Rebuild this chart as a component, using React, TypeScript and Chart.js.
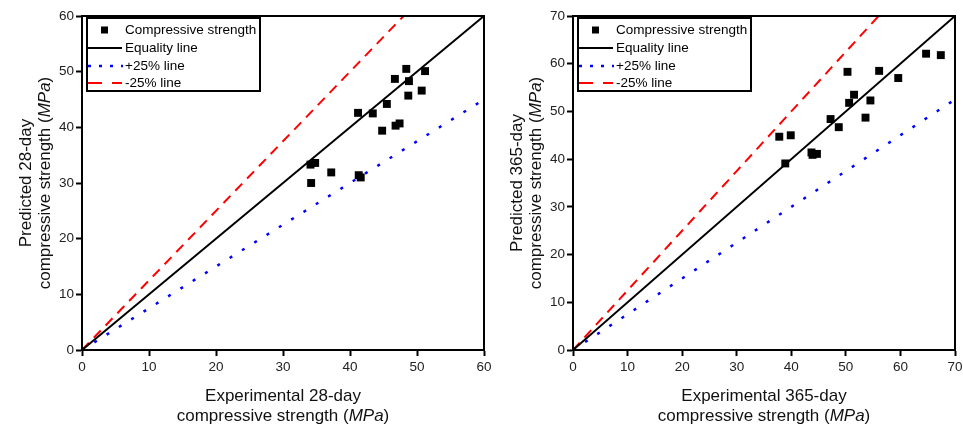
import React, { useEffect, useRef } from 'react';
import { Chart, registerables } from 'chart.js';

Chart.register(...registerables);

// ---- Data (left: 28-day) ----
const LEFT_EXP = [48.4, 51.2, 46.7, 48.8, 50.7, 48.7, 45.5, 41.2, 43.4, 44.8, 46.8, 47.4, 34.1, 34.8, 37.2, 34.2, 41.3, 41.6];
const LEFT_PRED = [50.5, 50.1, 48.7, 48.3, 46.6, 45.7, 44.2, 42.6, 42.5, 39.4, 40.3, 40.7, 33.3, 33.6, 31.9, 30.0, 31.4, 31.0];
const LEFT_EQ_X = [0, 60];
const LEFT_EQ_Y = [0, 60];
const LEFT_PLUS_X = [0, 60];
const LEFT_PLUS_Y = [0, 45];
const LEFT_MINUS_X = [0, 48];
const LEFT_MINUS_Y = [0, 60];
const LEFT_MAX = 60;

// ---- Data (right: 365-day) ----
const RIGHT_EXP = [64.7, 67.4, 50.3, 56.1, 59.6, 51.5, 50.6, 54.5, 47.2, 48.7, 53.6, 37.8, 39.9, 43.7, 43.9, 44.7, 38.9];
const RIGHT_PRED = [62.1, 61.8, 58.3, 58.5, 57.0, 53.5, 51.8, 52.3, 48.4, 46.7, 48.7, 44.7, 45.0, 41.4, 40.9, 41.1, 39.1];
const RIGHT_EQ_X = [0, 70];
const RIGHT_EQ_Y = [0, 70];
const RIGHT_PLUS_X = [0, 70];
const RIGHT_PLUS_Y = [0, 52.5];
const RIGHT_MINUS_X = [0, 56];
const RIGHT_MINUS_Y = [0, 70];
const RIGHT_MAX = 70;

const TICK_STEP = 10;
const LEGEND_LABELS = ['Compressive strength', 'Equality line', '+25% line', '-25% line'];

const FONT = "'Liberation Sans', Arial, Helvetica, sans-serif";

type Part = { t: string; i?: boolean };

const pts = (xs: number[], ys: number[]) => xs.map((x, k) => ({ x, y: ys[k] }));

function drawParts(ctx: CanvasRenderingContext2D, parts: Part[], x: number, y: number, size: number) {
  const fonts = parts.map((p) => `${p.i ? 'italic ' : ''}${size}px ${FONT}`);
  let total = 0;
  const widths = parts.map((p, k) => {
    ctx.font = fonts[k];
    const w = ctx.measureText(p.t).width;
    total += w;
    return w;
  });
  let cx = x - total / 2;
  ctx.textAlign = 'left';
  ctx.textBaseline = 'alphabetic';
  parts.forEach((p, k) => {
    ctx.font = fonts[k];
    ctx.fillText(p.t, cx, y);
    cx += widths[k];
  });
}

function makeDecor(xTitle: Part[][], yTitle: Part[][]) {
  return {
    id: 'decor',
    afterDraw(chart: any) {
      const ctx: CanvasRenderingContext2D = chart.ctx;
      const a = chart.chartArea;
      ctx.save();
      // frame
      ctx.strokeStyle = '#000';
      ctx.lineWidth = 2;
      ctx.setLineDash([]);
      ctx.strokeRect(a.left, a.top, a.right - a.left, a.bottom - a.top);

      // legend
      const lx = a.left + 5;
      const ly = a.top + 2;
      const lw = 173;
      const lh = 73;
      ctx.fillStyle = '#fff';
      ctx.fillRect(lx, ly, lw, lh);
      ctx.strokeRect(lx, ly, lw, lh);
      const rows = [14, 32, 50, 67].map((d) => a.top + d);
      // square
      ctx.fillStyle = '#000';
      ctx.fillRect(lx + 14, rows[0] - 3.5, 7, 7);
      // solid
      ctx.lineWidth = 2;
      ctx.strokeStyle = '#000';
      ctx.beginPath();
      ctx.moveTo(lx + 1, rows[1]);
      ctx.lineTo(lx + 35, rows[1]);
      ctx.stroke();
      // dotted blue
      ctx.strokeStyle = '#0000ff';
      ctx.lineWidth = 2.5;
      ctx.setLineDash([3, 8]);
      ctx.beginPath();
      ctx.moveTo(lx + 1, rows[2]);
      ctx.lineTo(lx + 36, rows[2]);
      ctx.stroke();
      // dashed red
      ctx.strokeStyle = '#ff0000';
      ctx.lineWidth = 2;
      ctx.setLineDash([14, 10]);
      ctx.beginPath();
      ctx.moveTo(lx + 1, rows[3]);
      ctx.lineTo(lx + 35, rows[3]);
      ctx.stroke();
      ctx.setLineDash([]);
      ctx.fillStyle = '#000';
      ctx.font = `13.5px ${FONT}`;
      ctx.textAlign = 'left';
      ctx.textBaseline = 'middle';
      LEGEND_LABELS.forEach((l, k) => ctx.fillText(l, lx + 38, rows[k] + 0.5));

      // x title
      ctx.fillStyle = '#111';
      const cx = (a.left + a.right) / 2;
      drawParts(ctx, xTitle[0], cx, 401, 17);
      drawParts(ctx, xTitle[1], cx, 421, 17);

      // y title
      const cy = (a.top + a.bottom) / 2;
      [a.left - 51, a.left - 32].forEach((bx, k) => {
        ctx.save();
        ctx.translate(bx, cy);
        ctx.rotate(-Math.PI / 2);
        drawParts(ctx, yTitle[k], 0, 0, 17);
        ctx.restore();
      });
      ctx.restore();
    },
  };
}

function PlotCanvas(props: {
  width: number;
  yAxisWidth: number;
  max: number;
  exp: number[];
  pred: number[];
  eq: [number[], number[]];
  plus: [number[], number[]];
  minus: [number[], number[]];
  xTitle: Part[][];
  yTitle: Part[][];
}) {
  const ref = useRef<HTMLCanvasElement>(null);
  useEffect(() => {
    const axisCommon = {
      type: 'linear' as const,
      min: 0,
      max: props.max,
      ticks: {
        stepSize: TICK_STEP,
        color: '#222',
        font: { family: FONT, size: 13.5 },
      },
      grid: {
        display: true,
        drawOnChartArea: false,
        drawTicks: true,
        tickLength: 6,
        tickWidth: 2,
        tickColor: '#000',
      },
      border: { display: true, color: '#000', width: 2 },
    };
    const chart = new Chart(ref.current as HTMLCanvasElement, {
      type: 'scatter',
      data: {
        datasets: [
          {
            label: LEGEND_LABELS[0],
            data: pts(props.exp, props.pred),
            pointStyle: 'rect',
            pointRadius: 5.6,
            backgroundColor: '#000',
            borderColor: '#000',
            borderWidth: 0,
          },
          {
            label: LEGEND_LABELS[1],
            data: pts(props.eq[0], props.eq[1]),
            showLine: true,
            pointRadius: 0,
            borderColor: '#000',
            borderWidth: 2,
          },
          {
            label: LEGEND_LABELS[2],
            data: pts(props.plus[0], props.plus[1]),
            showLine: true,
            pointRadius: 0,
            borderColor: '#0000ff',
            borderWidth: 2.5,
            borderDash: [3, 11.5],
          },
          {
            label: LEGEND_LABELS[3],
            data: pts(props.minus[0], props.minus[1]),
            showLine: true,
            pointRadius: 0,
            borderColor: '#ff0000',
            borderWidth: 2,
            borderDash: [10, 7],
          },
        ],
      } as any,
      options: {
        responsive: false,
        animation: false,
        layout: { padding: { top: 16, right: 8, left: 0, bottom: 0 } },
        plugins: { legend: { display: false }, tooltip: { enabled: false } },
        scales: {
          x: {
            ...axisCommon,
            ticks: { ...axisCommon.ticks, padding: 3 },
            afterFit: (s: any) => {
              s.height = 75;
              s.paddingLeft = 0;
              s.paddingRight = 0;
            },
          },
          y: {
            ...axisCommon,
            ticks: { ...axisCommon.ticks, padding: 2 },
            afterFit: (s: any) => {
              s.width = props.yAxisWidth;
              s.paddingTop = 0;
              s.paddingBottom = 0;
            },
          },
        },
      } as any,
      plugins: [makeDecor(props.xTitle, props.yTitle)],
    });
    return () => chart.destroy();
  }, []);
  return <canvas ref={ref} width={props.width} height={425} style={{ display: 'block' }} />;
}

export default function App() {
  return (
    <div style={{ position: 'fixed', left: 0, top: 0, width: 963, height: 425, display: 'flex', background: '#fff' }}>
      <PlotCanvas
        width={492}
        yAxisWidth={82}
        max={LEFT_MAX}
        exp={LEFT_EXP}
        pred={LEFT_PRED}
        eq={[LEFT_EQ_X, LEFT_EQ_Y]}
        plus={[LEFT_PLUS_X, LEFT_PLUS_Y]}
        minus={[LEFT_MINUS_X, LEFT_MINUS_Y]}
        xTitle={[[{ t: 'Experimental 28-day' }], [{ t: 'compressive strength (' }, { t: 'MPa', i: true }, { t: ')' }]]}
        yTitle={[[{ t: 'Predicted 28-day' }], [{ t: 'compressive strength (' }, { t: 'MPa', i: true }, { t: ')' }]]}
      />
      <PlotCanvas
        width={471}
        yAxisWidth={81}
        max={RIGHT_MAX}
        exp={RIGHT_EXP}
        pred={RIGHT_PRED}
        eq={[RIGHT_EQ_X, RIGHT_EQ_Y]}
        plus={[RIGHT_PLUS_X, RIGHT_PLUS_Y]}
        minus={[RIGHT_MINUS_X, RIGHT_MINUS_Y]}
        xTitle={[[{ t: 'Experimental 365-day' }], [{ t: 'compressive strength (' }, { t: 'MPa', i: true }, { t: ')' }]]}
        yTitle={[[{ t: 'Predicted 365-day' }], [{ t: 'compressive strength (' }, { t: 'MPa', i: true }, { t: ')' }]]}
      />
    </div>
  );
}
